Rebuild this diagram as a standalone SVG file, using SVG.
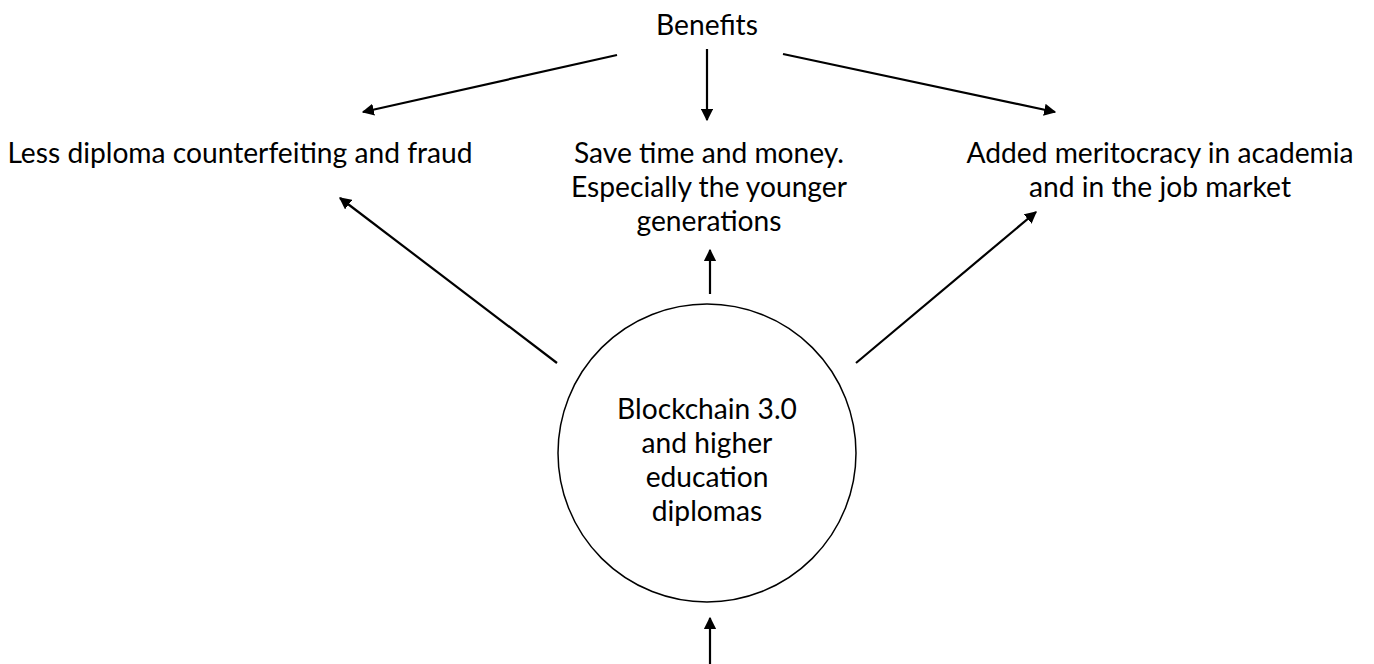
<svg xmlns="http://www.w3.org/2000/svg" width="1374" height="664" viewBox="0 0 1374 664">
<style>
  .t { font-family: Lato, "Noto Sans", "Liberation Sans", sans-serif; font-size: 28.2px; fill: #000; text-anchor: middle; }
  .c { stroke: #000; stroke-width: 2.2; fill: none; marker-end: url(#ah); }
</style>
<defs>
  <marker id="ah" viewBox="0 0 10 10" refX="9" refY="5" markerWidth="5.5" markerHeight="5.5" markerUnits="strokeWidth" orient="auto">
    <path d="M0,0 L10,5 L0,10 z" fill="#000"/>
  </marker>
</defs>
<rect width="1374" height="664" fill="#fff"/>
<g id="benefits"><text class="t" x="707" y="35">Benefits</text></g>
<g id="less-fraud"><text class="t" x="240" y="163">Less diploma counterfeiting and fraud</text></g>
<g id="save-time"><text class="t" x="709" y="163">Save time and money.</text><text class="t" x="709" y="197">Especially the younger</text><text class="t" x="709" y="231">generations</text></g>
<g id="meritocracy"><text class="t" x="1160" y="163">Added meritocracy in academia</text><text class="t" x="1160" y="197">and in the job market</text></g>
<g id="blockchain">
  <circle cx="707" cy="453" r="149" fill="none" stroke="#000" stroke-width="1.5"/>
  <text class="t" x="707" y="419">Blockchain 3.0</text>
  <text class="t" x="707" y="453">and higher</text>
  <text class="t" x="707" y="487">education</text>
  <text class="t" x="707" y="521">diplomas</text>
</g>
<g id="connectors">
  <line class="c" x1="617" y1="55" x2="363" y2="112"/>
  <line class="c" x1="707" y1="49" x2="707" y2="120"/>
  <line class="c" x1="783" y1="54" x2="1055" y2="112"/>
  <line class="c" x1="557" y1="363" x2="340" y2="198"/>
  <line class="c" x1="710" y1="294" x2="710" y2="250"/>
  <line class="c" x1="856" y1="363" x2="1036" y2="212"/>
  <line class="c" x1="710" y1="664" x2="710" y2="618"/>
</g>
</svg>
